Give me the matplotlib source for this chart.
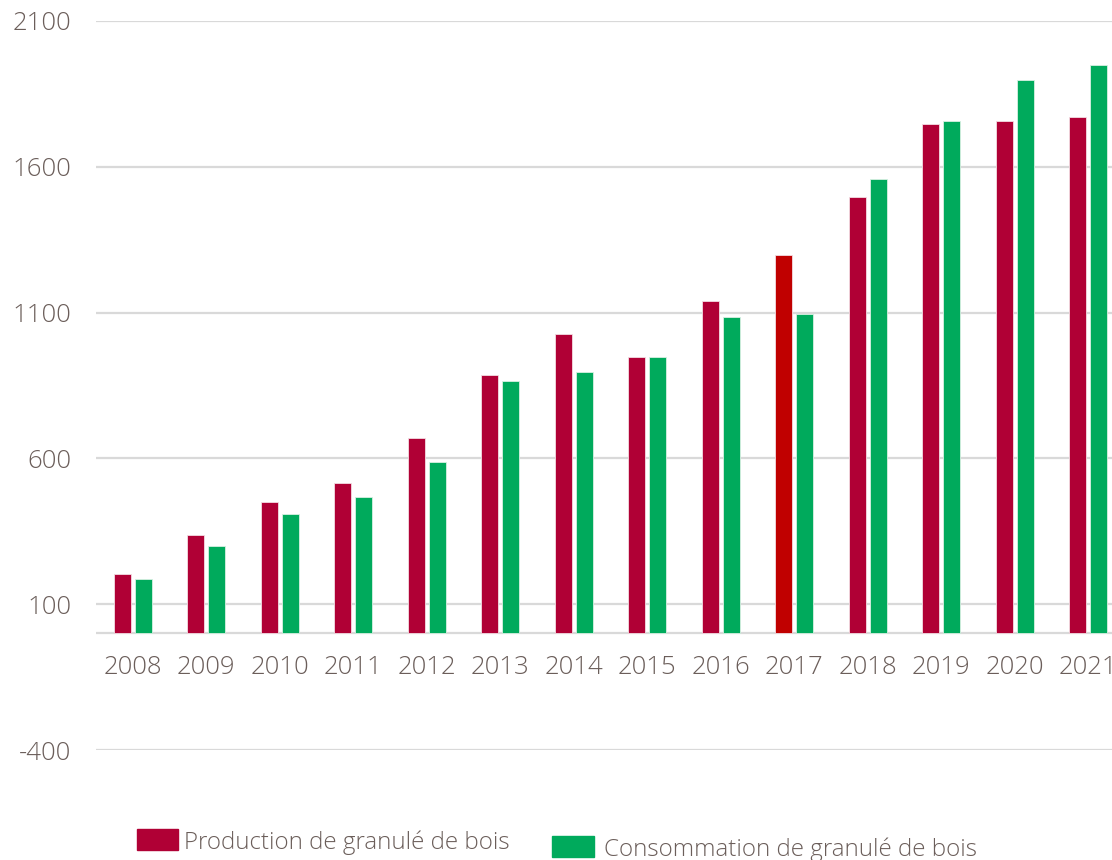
"""Production et consommation de granulé de bois, 2008-2021."""
import matplotlib.pyplot as plt
import numpy as np
from matplotlib.patches import Rectangle

years = ["2008", "2009", "2010", "2011", "2012", "2013", "2014",
         "2015", "2016", "2017", "2018", "2019", "2020", "2021"]
production = [202, 336, 452, 517, 671, 887, 1027, 949, 1140, 1298, 1497, 1747, 1757, 1771]
consommation = [188, 298, 408, 469, 586, 866, 897, 949, 1086, 1096, 1558, 1757, 1897, 1949]
yticks = [-400, 100, 600, 1100, 1600, 2100]
labels = ["Production de granulé de bois", "Consommation de granulé de bois"]

c_prod = "#b00035"
c_prod_hl = "#c00000"
c_cons = "#00aa5c"
c_text = "#6b5e5a"
c_grid = "#d9d9d9"

plt.rcParams["font.family"] = ["Open Sans", "DejaVu Sans"]
plt.rcParams["font.weight"] = "light"

W, H = 1112, 860
fig = plt.figure(figsize=(W / 100, H / 100), dpi=100)
ax = fig.add_axes([96 / W, 110 / H, (1125 - 96) / W, 729 / H])

x = np.arange(len(years))
bw = 0.231
off = 0.143
prod_colors = [c_prod_hl if y == "2017" else c_prod for y in years]
ax.bar(x - off, production, bw, color=prod_colors, edgecolor="#f3dde3",
       linewidth=0.6, zorder=3)
ax.bar(x + off, consommation, bw, color=c_cons, edgecolor="#d8f0e2",
       linewidth=0.6, zorder=3)

ax.set_xlim(-0.5, len(years) - 0.5)
ax.set_ylim(-400, 2100)
ax.set_yticks(yticks)
ax.set_yticklabels([str(v) for v in yticks])
ax.yaxis.grid(True, color=c_grid, linewidth=1.6, zorder=0)
ax.axhline(0, color=c_grid, linewidth=1.6, zorder=2)
for s in ax.spines.values():
    s.set_visible(False)
ax.tick_params(axis="y", length=0, pad=18, labelsize=18.5, labelcolor=c_text)
ax.set_xticks([])
# year labels sit under the zero line, not at the axes bottom
for xi, yr in zip(x, years):
    ax.annotate(yr, (xi, 0), xytext=(0, -34), textcoords="offset pixels",
                ha="center", va="center", fontsize=18.5, color=c_text,
                annotation_clip=False)

# legend
fig.patches.append(Rectangle((137 / W, 1 - 850 / H), 41 / W, 21 / H,
                             color=c_prod, transform=fig.transFigure))
fig.text(184 / W, 1 - 843 / H, labels[0], color=c_text, fontsize=17.4,
         va="center", ha="left")
fig.patches.append(Rectangle((552 / W, 1 - 857 / H), 42 / W, 21 / H,
                             color=c_cons, transform=fig.transFigure))
fig.text(604 / W, 1 - 850 / H, labels[1], color=c_text, fontsize=17.4,
         va="center", ha="left")

fig.savefig("out.png", dpi=100)
